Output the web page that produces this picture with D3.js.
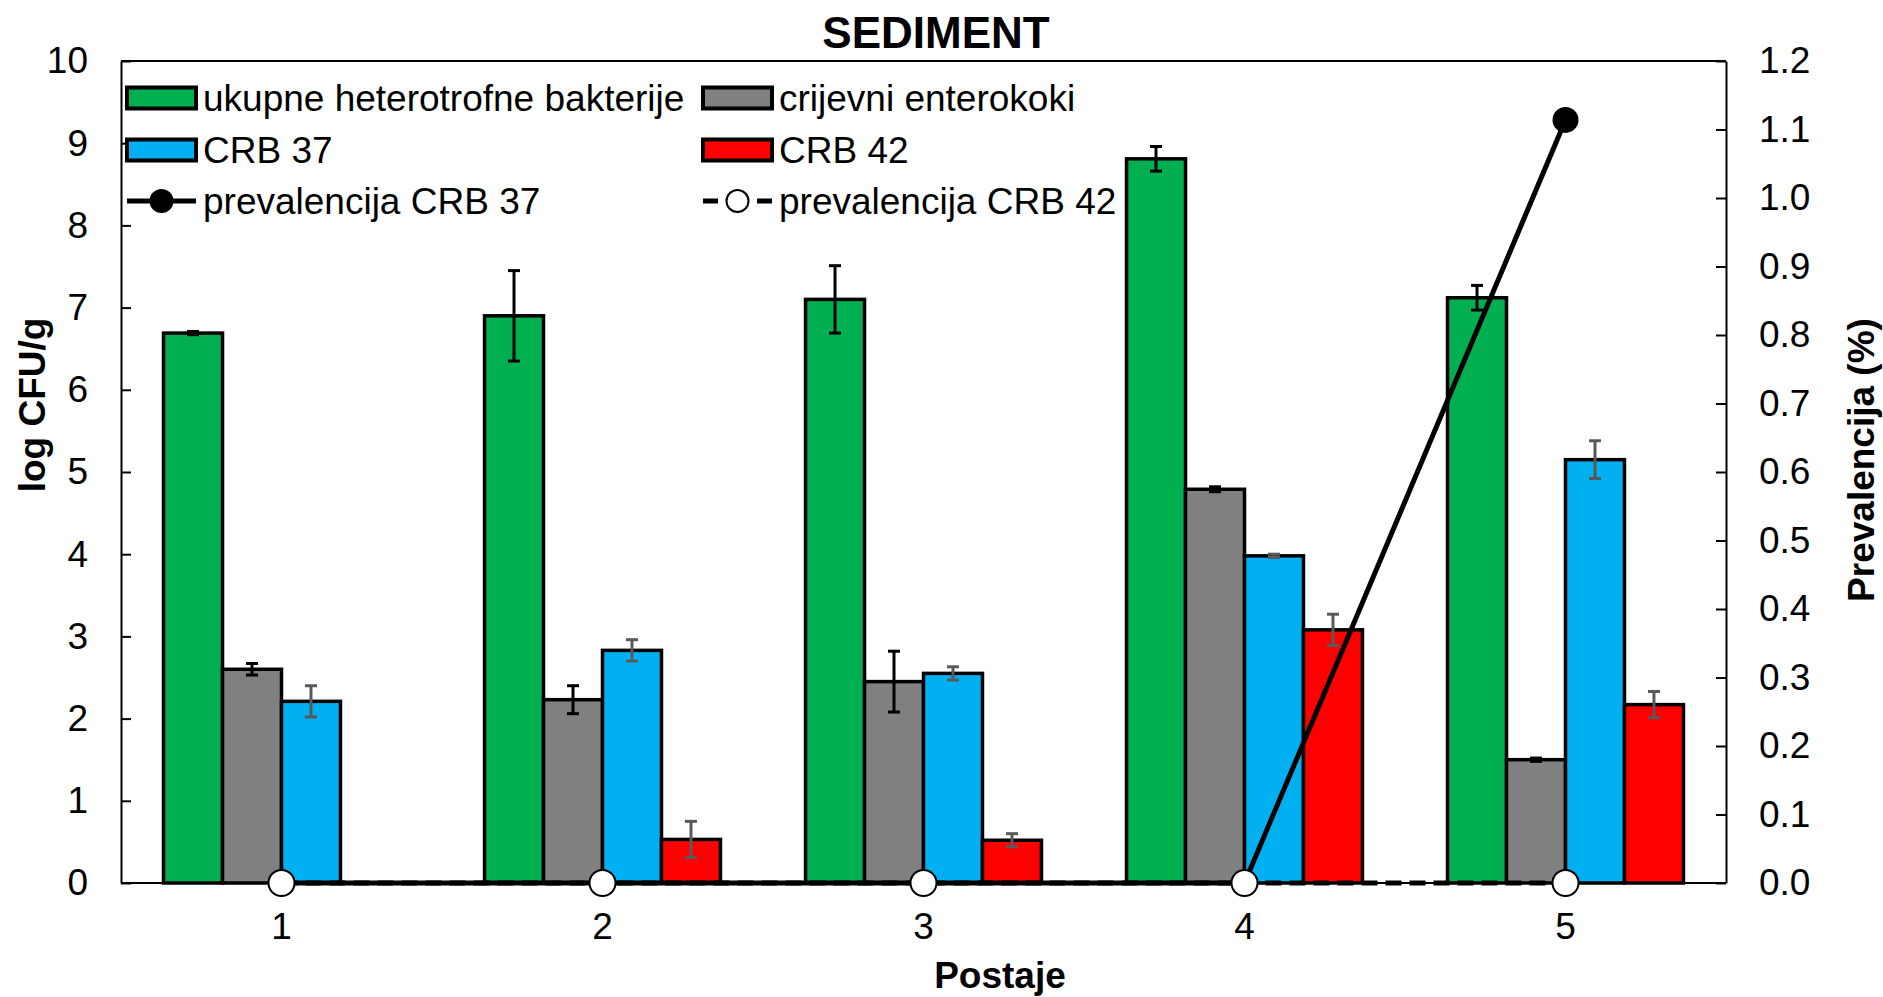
<!DOCTYPE html>
<html>
<head>
<meta charset="utf-8">
<script src="https://cdn.jsdelivr.net/npm/d3@7"></script>
<style>
    body { margin: 0; background: #fff; }
    text { font-family: "Liberation Sans", Arial, sans-serif; fill: #000; }
</style>
</head>
<body>
<div id="chart"></div>
<script>
// data
const stations = ["1", "2", "3", "4", "5"];
const seriesNames = ["ukupne heterotrofne bakterije", "crijevni enterokoki", "CRB 37", "CRB 42"];
const heterotrofne = [6.69, 6.90, 7.10, 8.81, 7.12];
const heterotrofneErr = [0.02, 0.55, 0.41, 0.15, 0.15];
const enterokoki = [2.60, 2.23, 2.45, 4.79, 1.50];
const enterokokiErr = [0.07, 0.17, 0.37, 0.03, 0.02];
const crb37 = [2.21, 2.83, 2.55, 3.98, 5.15];
const crb37Err = [0.19, 0.13, 0.08, 0.02, 0.23];
const crb42 = [0, 0.53, 0.52, 3.08, 2.17];
const crb42Err = [0, 0.22, 0.08, 0.19, 0.16];
const prevCrb37 = [0, 0, 0, 0, 1.114];
const prevCrb42 = [0, 0, 0, 0, 0];
const leftTicks = [0, 1, 2, 3, 4, 5, 6, 7, 8, 9, 10];
const rightTicks = [0, 0.1, 0.2, 0.3, 0.4, 0.5, 0.6, 0.7, 0.8, 0.9, 1.0, 1.1, 1.2];

const green = "#00B050";
const gray = "#808080";
const blue = "#00B0F0";
const red = "#FF0000";
const black = "#000";
const errGray = "#595959";

const width = 1883;
const height = 997;
const margin = { left: 121, right: 157, top: 61, bottom: 114 };
const fontSize = 37;

const svg = d3.select("#chart")
    .append("svg")
    .attr("width", width)
    .attr("height", height)
    .attr("viewBox", `0 0 ${width} ${height}`);

const series = [
    { name: seriesNames[0], values: heterotrofne, errs: heterotrofneErr, color: green, errColor: black },
    { name: seriesNames[1], values: enterokoki, errs: enterokokiErr, color: gray, errColor: black },
    { name: seriesNames[2], values: crb37, errs: crb37Err, color: blue, errColor: errGray },
    { name: seriesNames[3], values: crb42, errs: crb42Err, color: red, errColor: errGray }
];

const x0 = d3.scaleBand()
    .domain(stations)
    .range([margin.left, width - margin.right])
    .paddingInner(0.265)
    .paddingOuter(0.1325);

const x1 = d3.scaleBand()
    .domain(seriesNames)
    .range([0, x0.bandwidth()]);

const yLeft = d3.scaleLinear()
    .domain([0, 10])
    .range([height - margin.bottom, margin.top]);

const yRight = d3.scaleLinear()
    .domain([0, 1.2])
    .range([height - margin.bottom, margin.top]);

const xCenter = d => x0(d) + x0.bandwidth() / 2;

// flatten bars, skip empty ones
const bars = [];
series.forEach(s => {
    s.values.forEach((v, i) => {
        if (v > 0) {
            bars.push({ station: stations[i], name: s.name, value: v, err: s.errs[i], color: s.color, errColor: s.errColor });
        }
    });
});

svg.selectAll(".bar")
    .data(bars)
    .join("rect")
        .attr("class", "bar")
        .attr("x", d => x0(d.station) + x1(d.name))
        .attr("y", d => yLeft(d.value))
        .attr("width", x1.bandwidth())
        .attr("height", d => yLeft(0) - yLeft(d.value))
        .attr("fill", d => d.color)
        .attr("stroke", black)
        .attr("stroke-width", 3.5);

// error bars
const capHalf = 6;
const errG = svg.selectAll(".err")
    .data(bars)
    .join("g")
        .attr("class", "err")
        .attr("transform", d => `translate(${x0(d.station) + x1(d.name) + x1.bandwidth() / 2}, 0)`)
        .attr("stroke", d => d.errColor)
        .attr("stroke-width", 3);

errG.append("line")
    .attr("x1", 0).attr("x2", 0)
    .attr("y1", d => yLeft(d.value + d.err))
    .attr("y2", d => yLeft(d.value - d.err));

errG.append("line")
    .attr("x1", -capHalf).attr("x2", capHalf)
    .attr("y1", d => yLeft(d.value + d.err))
    .attr("y2", d => yLeft(d.value + d.err));

errG.append("line")
    .attr("x1", -capHalf).attr("x2", capHalf)
    .attr("y1", d => yLeft(d.value - d.err))
    .attr("y2", d => yLeft(d.value - d.err));

// frame
svg.append("line")
    .attr("x1", margin.left).attr("x2", width - margin.right)
    .attr("y1", margin.top).attr("y2", margin.top)
    .attr("stroke", black).attr("stroke-width", 2);

svg.append("line")
    .attr("x1", margin.left).attr("x2", width - margin.right)
    .attr("y1", height - margin.bottom).attr("y2", height - margin.bottom)
    .attr("stroke", black).attr("stroke-width", 2);

// axes, ticks point inward
const leftAxis = svg.append("g")
    .attr("transform", `translate(${margin.left}, 0)`)
    .call(d3.axisLeft(yLeft).tickValues(leftTicks).tickSizeInner(-10).tickSizeOuter(0).tickPadding(33));

const rightAxis = svg.append("g")
    .attr("transform", `translate(${width - margin.right}, 0)`)
    .call(d3.axisRight(yRight).tickValues(rightTicks).tickFormat(d3.format(".1f")).tickSizeInner(-10).tickSizeOuter(0).tickPadding(33));

[leftAxis, rightAxis].forEach(ax => {
    ax.select(".domain").attr("stroke", black).attr("stroke-width", 2);
    ax.selectAll(".tick line").attr("stroke", black).attr("stroke-width", 2);
    ax.selectAll(".tick text")
        .style("font-size", fontSize + "px")
        .style("font-family", "Liberation Sans, Arial, sans-serif")
        .attr("fill", black);
});

svg.selectAll(".xlabel")
    .data(stations)
    .join("text")
        .attr("class", "xlabel")
        .attr("x", xCenter)
        .attr("y", 939)
        .attr("text-anchor", "middle")
        .style("font-size", fontSize + "px")
        .text(d => d);

// prevalence lines
const prevLine = d3.line()
    .x((d, i) => xCenter(stations[i]))
    .y(d => yRight(d));

svg.append("path")
    .datum(prevCrb37)
    .attr("d", prevLine)
    .attr("fill", "none")
    .attr("stroke", black)
    .attr("stroke-width", 5);

svg.append("path")
    .datum(prevCrb42)
    .attr("d", prevLine)
    .attr("fill", "none")
    .attr("stroke", black)
    .attr("stroke-width", 5)
    .attr("stroke-dasharray", "16 8");

svg.selectAll(".m37")
    .data(prevCrb37)
    .join("circle")
        .attr("class", "m37")
        .attr("cx", (d, i) => xCenter(stations[i]))
        .attr("cy", d => yRight(d))
        .attr("r", 13)
        .attr("fill", black);

svg.selectAll(".m42")
    .data(prevCrb42)
    .join("circle")
        .attr("class", "m42")
        .attr("cx", (d, i) => xCenter(stations[i]))
        .attr("cy", d => yRight(d))
        .attr("r", 13)
        .attr("fill", "#fff")
        .attr("stroke", black)
        .attr("stroke-width", 2);

// titles
svg.append("text")
    .attr("x", 936)
    .attr("y", 48)
    .attr("text-anchor", "middle")
    .style("font-size", "44px")
    .style("font-weight", 700)
    .text("SEDIMENT");

svg.append("text")
    .attr("x", 1000)
    .attr("y", 988)
    .attr("text-anchor", "middle")
    .style("font-size", fontSize + "px")
    .style("font-weight", 700)
    .text("Postaje");

svg.append("text")
    .attr("transform", "translate(45, 405) rotate(-90)")
    .attr("text-anchor", "middle")
    .style("font-size", fontSize + "px")
    .style("font-weight", 700)
    .text("log CFU/g");

svg.append("text")
    .attr("transform", "translate(1874, 460) rotate(-90)")
    .attr("text-anchor", "middle")
    .style("font-size", fontSize + "px")
    .style("font-weight", 700)
    .text("Prevalencija (%)");

// legend
const legendItems = [
    { label: seriesNames[0], type: "bar", color: green, col: 0, row: 0 },
    { label: seriesNames[1], type: "bar", color: gray, col: 1, row: 0 },
    { label: seriesNames[2], type: "bar", color: blue, col: 0, row: 1 },
    { label: seriesNames[3], type: "bar", color: red, col: 1, row: 1 },
    { label: "prevalencija CRB 37", type: "solid", col: 0, row: 2 },
    { label: "prevalencija CRB 42", type: "dashed", col: 1, row: 2 }
];
const legendX = [127, 703];
const legendY = [98, 150, 201];
const swatchW = 69;
const swatchH = 21;

const legend = svg.selectAll(".legend")
    .data(legendItems)
    .join("g")
        .attr("class", "legend")
        .attr("transform", d => `translate(${legendX[d.col]}, ${legendY[d.row]})`);

legend.filter(d => d.type === "bar")
    .append("rect")
        .attr("x", 0)
        .attr("y", -swatchH / 2)
        .attr("width", swatchW)
        .attr("height", swatchH)
        .attr("fill", d => d.color)
        .attr("stroke", black)
        .attr("stroke-width", 4);

legend.filter(d => d.type === "solid")
    .call(g => {
        g.append("line")
            .attr("x1", 0).attr("x2", swatchW)
            .attr("y1", 0).attr("y2", 0)
            .attr("stroke", black).attr("stroke-width", 5);
        g.append("circle")
            .attr("cx", swatchW / 2).attr("cy", 0).attr("r", 12)
            .attr("fill", black);
    });

legend.filter(d => d.type === "dashed")
    .call(g => {
        g.append("line")
            .attr("x1", 0).attr("x2", swatchW)
            .attr("y1", 0).attr("y2", 0)
            .attr("stroke", black).attr("stroke-width", 5)
            .attr("stroke-dasharray", "15 39 15");
        g.append("circle")
            .attr("cx", swatchW / 2).attr("cy", 0).attr("r", 11)
            .attr("fill", "#fff")
            .attr("stroke", black).attr("stroke-width", 2);
    });

legend.append("text")
    .attr("x", swatchW + 7)
    .attr("y", 0)
    .attr("dy", "0.35em")
    .style("font-size", fontSize + "px")
    .text(d => d.label);
</script>
</body>
</html>
